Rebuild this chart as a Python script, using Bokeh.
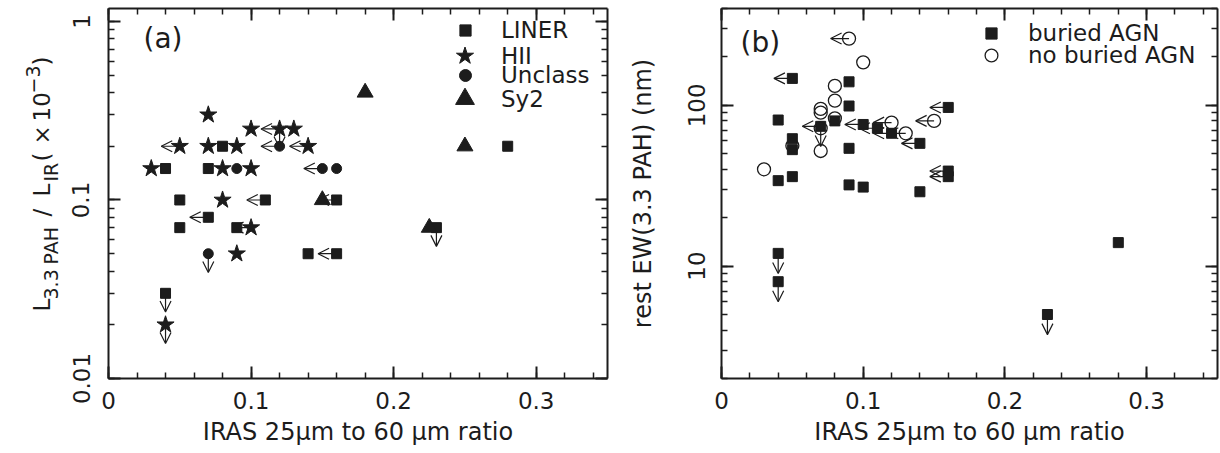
import math
from bokeh.plotting import figure
from bokeh.models import (Range1d, FixedTicker, LinearAxis, LogAxis, Label, Legend, LegendItem,
                          Arrow, OpenHead, ColumnDataSource, PrintfTickFormatter,
                          CustomJSTickFormatter)
from bokeh.layouts import row
from bokeh.embed import file_html
from bokeh.resources import INLINE

# ---------------- data : panel (a) ----------------
liner_x = [0.04, 0.08, 0.07, 0.05, 0.05, 0.07, 0.09, 0.11, 0.16, 0.14, 0.16, 0.04, 0.23, 0.28]
liner_y = [0.15, 0.20, 0.15, 0.10, 0.07, 0.08, 0.07, 0.10, 0.10, 0.05, 0.05, 0.03, 0.07, 0.20]
liner_lim = ["", "", "", "", "", "L", "", "L", "L", "", "L", "D", "D", ""]

hii_x = [0.03, 0.05, 0.07, 0.07, 0.09, 0.10, 0.12, 0.13, 0.14, 0.08, 0.10, 0.08, 0.10, 0.09, 0.04]
hii_y = [0.15, 0.20, 0.30, 0.20, 0.20, 0.25, 0.25, 0.25, 0.20, 0.15, 0.15, 0.10, 0.07, 0.05, 0.02]
hii_lim = ["", "L", "", "", "", "", "LD", "", "L", "", "", "", "L", "", "D"]

unc_x = [0.09, 0.12, 0.15, 0.16, 0.07]
unc_y = [0.15, 0.20, 0.15, 0.15, 0.05]
unc_lim = ["", "L", "L", "", "D"]

sy2_x = [0.18, 0.25, 0.15, 0.225]
sy2_y = [0.40, 0.20, 0.10, 0.07]
sy2_lim = ["", "", "", ""]

# ---------------- data : panel (b) ----------------
bur_x = [0.05, 0.09, 0.09, 0.04, 0.08, 0.07, 0.10, 0.11, 0.12, 0.14, 0.16, 0.16, 0.16,
         0.05, 0.05, 0.09, 0.04, 0.05, 0.09, 0.10, 0.14, 0.04, 0.04, 0.23, 0.28]
bur_y = [147, 140, 99, 81, 80, 74, 76, 72, 67, 58, 97, 39, 36,
         62, 53, 54, 34, 36, 32, 31, 29, 12, 8, 5, 14]
bur_lim = ["L", "", "", "", "", "LD", "L", "L", "L", "L", "L", "L", "L",
           "", "", "", "", "", "", "", "", "D", "D", "D", ""]

nob_x = [0.09, 0.10, 0.08, 0.08, 0.07, 0.07, 0.08, 0.07, 0.07, 0.12, 0.13, 0.15, 0.05, 0.03]
nob_y = [260, 185, 132, 107, 95, 90, 83, 72, 52, 78, 67, 80, 56, 40]
nob_lim = ["L", "", "", "", "", "", "", "", "", "L", "L", "L", "", ""]

# ---------------- axes / labels ----------------
x_ticks = [0.0, 0.1, 0.2, 0.3]
x_minor = [0.02 * i for i in range(18)]
ya_ticks = [0.01, 0.1, 1.0]
ya_minor = [k * 10.0 ** e for e in (-2, -1) for k in range(1, 10)] + [1.0]
yb_ticks = [10.0, 100.0]
yb_minor = [k * 10.0 ** e for e in (0, 1, 2) for k in range(1, 10) if k * 10.0 ** e <= 400]
x_label = "IRAS 25\u03bcm to 60 \u03bcm ratio"
yb_label = "rest EW(3.3 PAH) (nm)"
# y label of (a): L_{3.3 PAH}/L_{IR} (x 10^{-3}) as pieces (text, font px, baseline x, start y)
ya_label_pieces = [("L", 23, 41, 311), ("3.3", 19, 50, 299), ("PAH", 19, 50, 264),
                   ("/", 23, 41, 216), ("L", 23, 41, 196), ("IR", 19, 50, 181),
                   ("(", 23, 41, 161), ("\u00d7", 23, 41, 144), ("10", 23, 41, 121),
                   ("\u22123", 19, 32, 93), (")", 23, 41, 65)]
XR = (0.0, 0.35)
YA = (0.01, 1.182)
YB = (2.0, 400.0)

C = "#1c1c1c"
FONT = "DejaVu Sans"
H = 453
TOP, BOTTOM = 8, 378
LW = 60  # width of the strip holding the y label of (a)


def style_axis(ax, show, standoff=13):
    ax.axis_line_width = 2
    ax.axis_line_color = C
    ax.major_tick_in = 12
    ax.major_tick_out = 0
    ax.minor_tick_in = 6
    ax.minor_tick_out = 0
    ax.major_tick_line_width = 2
    ax.minor_tick_line_width = 1.5
    ax.major_tick_line_color = C
    ax.minor_tick_line_color = C
    ax.major_label_text_font = FONT
    ax.major_label_text_color = C
    ax.axis_label_text_font = FONT
    ax.axis_label_text_font_style = "normal"
    ax.axis_label_text_font_size = "24px"
    ax.axis_label_text_color = C
    if show:
        ax.major_label_text_font_size = "23px"
        ax.major_label_standoff = standoff
    else:
        ax.formatter = CustomJSTickFormatter(code="return ''")
        ax.major_label_text_font_size = "1px"
        ax.major_label_standoff = 0


def make_fig(width, left, right, yr, yt, ym, ystand):
    p = figure(width=width, height=H, x_range=Range1d(*XR), y_range=Range1d(*yr),
               y_axis_type="log", output_backend="svg", toolbar_location=None,
               min_border_left=left, min_border_right=right,
               min_border_top=TOP, min_border_bottom=H - BOTTOM)
    p.xgrid.grid_line_color = None
    p.ygrid.grid_line_color = None
    p.outline_line_color = None
    xb = p.below[0]
    xb.ticker = FixedTicker(ticks=x_ticks, minor_ticks=x_minor)
    xb.formatter = PrintfTickFormatter(format="%g")
    style_axis(xb, True, 13)
    xb.axis_label = x_label
    xb.axis_label_standoff = 6
    yl = p.left[0]
    yl.ticker = FixedTicker(ticks=yt, minor_ticks=ym)
    yl.formatter = PrintfTickFormatter(format="%g")
    yl.major_label_orientation = "vertical"
    style_axis(yl, True, ystand)
    xt = LinearAxis(ticker=FixedTicker(ticks=x_ticks, minor_ticks=x_minor))
    style_axis(xt, False)
    p.add_layout(xt, "above")
    yr_ax = LogAxis(ticker=FixedTicker(ticks=yt, minor_ticks=ym))
    style_axis(yr_ax, False)
    p.add_layout(yr_ax, "right")
    return p


def limit_arrows(p, xs, ys, lims, dx, fy):
    x0, y0, x1, y1 = [], [], [], []
    for x, y, f in zip(xs, ys, lims):
        if "L" in f:
            x0.append(x); y0.append(y); x1.append(x - dx); y1.append(y)
        if "D" in f:
            x0.append(x); y0.append(y); x1.append(x); y1.append(y * fy)
    if x0:
        src = ColumnDataSource(dict(x0=x0, y0=y0, x1=x1, y1=y1))
        p.add_layout(Arrow(end=OpenHead(size=11, line_width=1.2, line_color=C),
                           x_start="x0", y_start="y0", x_end="x1", y_end="y1",
                           source=src, line_width=1.2, line_color=C, level="underlay"))


def add_legend(p, rend, label, vx, vy, w, g, s):
    leg = Legend(items=[LegendItem(label=label, renderers=[rend])], location=(vx, vy),
                 glyph_width=w, glyph_height=g, label_standoff=s, padding=0, margin=0,
                 spacing=0, border_line_color=None, background_fill_alpha=0,
                 label_text_font=FONT, label_text_font_size="23px", label_text_color=C)
    p.add_layout(leg)


def ydat(sy, yr):
    frac = (BOTTOM - sy) / (BOTTOM - TOP)
    return 10 ** (math.log10(yr[0]) + frac * (math.log10(yr[1]) - math.log10(yr[0])))


def xdat(sx, left, fw):
    return XR[0] + (sx - left) / fw * (XR[1] - XR[0])


# ================= strip with the y label of (a) =================
# its frame is aligned by the row layout with the frames of the panels (TOP..BOTTOM),
# so its y range is chosen so that data y == H - page y.
pl = figure(width=LW, height=H, x_range=Range1d(0, LW), y_range=Range1d(H - BOTTOM, H - TOP),
            output_backend="svg", toolbar_location=None, min_border=0,
            x_axis_location=None, y_axis_location=None)
pl.outline_line_color = None
pl.xgrid.grid_line_color = None
pl.ygrid.grid_line_color = None
for txt, fs, bx, sy in ya_label_pieces:
    pl.add_layout(Label(x=bx, y=H - sy, text=txt, angle=math.pi / 2,
                        text_font=FONT, text_font_size=f"{fs}px", text_color=C,
                        text_align="left", text_baseline="alphabetic"))

# ================= panel (a) =================
pa = make_fig(612 - LW, 108 - LW, 5, YA, ya_ticks, ya_minor, 19)
FA = 499
DX, FYA, FYB = 0.013, 10 ** -0.105, 10 ** -0.125
for xs, ys, lim in ((liner_x, liner_y, liner_lim), (hii_x, hii_y, hii_lim),
                    (unc_x, unc_y, unc_lim), (sy2_x, sy2_y, sy2_lim)):
    limit_arrows(pa, xs, ys, lim, DX, FYA)
r_l = pa.scatter(liner_x, liner_y, marker="square", size=10, fill_color=C, line_color=C)
r_h = pa.scatter(hii_x, hii_y, marker="star", size=18, fill_color=C, line_color=C)
r_u = pa.scatter(unc_x, unc_y, marker="circle", size=10, fill_color=C, line_color=C)
r_s = pa.scatter(sy2_x, sy2_y, marker="triangle", size=16, fill_color=C, line_color=C)

add_legend(pa, r_l, "LINER", 343, 332, 28, 32, 22)
add_legend(pa, r_h, "HII", 334, 300, 45, 45, 14)
add_legend(pa, r_u, "Unclass", 342, 288, 30, 30, 21)
add_legend(pa, r_s, "Sy2", 333, 256, 47, 47, 13)

pa.add_layout(Label(x=xdat(143, 108, FA), y=ydat(38, YA), text="(a)", text_font=FONT,
                    text_font_size="28px", text_color=C, text_baseline="middle"))

# ================= panel (b) =================
pb = make_fig(608, 109, 3, YB, yb_ticks, yb_minor, 16)
limit_arrows(pb, bur_x, bur_y, bur_lim, DX, FYB)
limit_arrows(pb, nob_x, nob_y, nob_lim, DX, FYB)
r_b = pb.scatter(bur_x, bur_y, marker="square", size=10, fill_color=C, line_color=C)
r_n = pb.scatter(nob_x, nob_y, marker="circle", size=13, fill_color=None, line_color=C,
                 line_width=1.3)
pb.left[0].axis_label = yb_label
pb.left[0].axis_label_standoff = 29

add_legend(pb, r_b, "buried AGN", 256, 329, 28, 32, 23)
add_legend(pb, r_n, "no buried AGN", 254, 307, 32, 32, 21)

pb.add_layout(Label(x=xdat(740, 721, 496), y=ydat(42, YB), text="(b)", text_font=FONT,
                    text_font_size="28px", text_color=C, text_baseline="middle"))

layout = row(pl, pa, pb)
open("out.html", "w").write(file_html(layout, INLINE))
